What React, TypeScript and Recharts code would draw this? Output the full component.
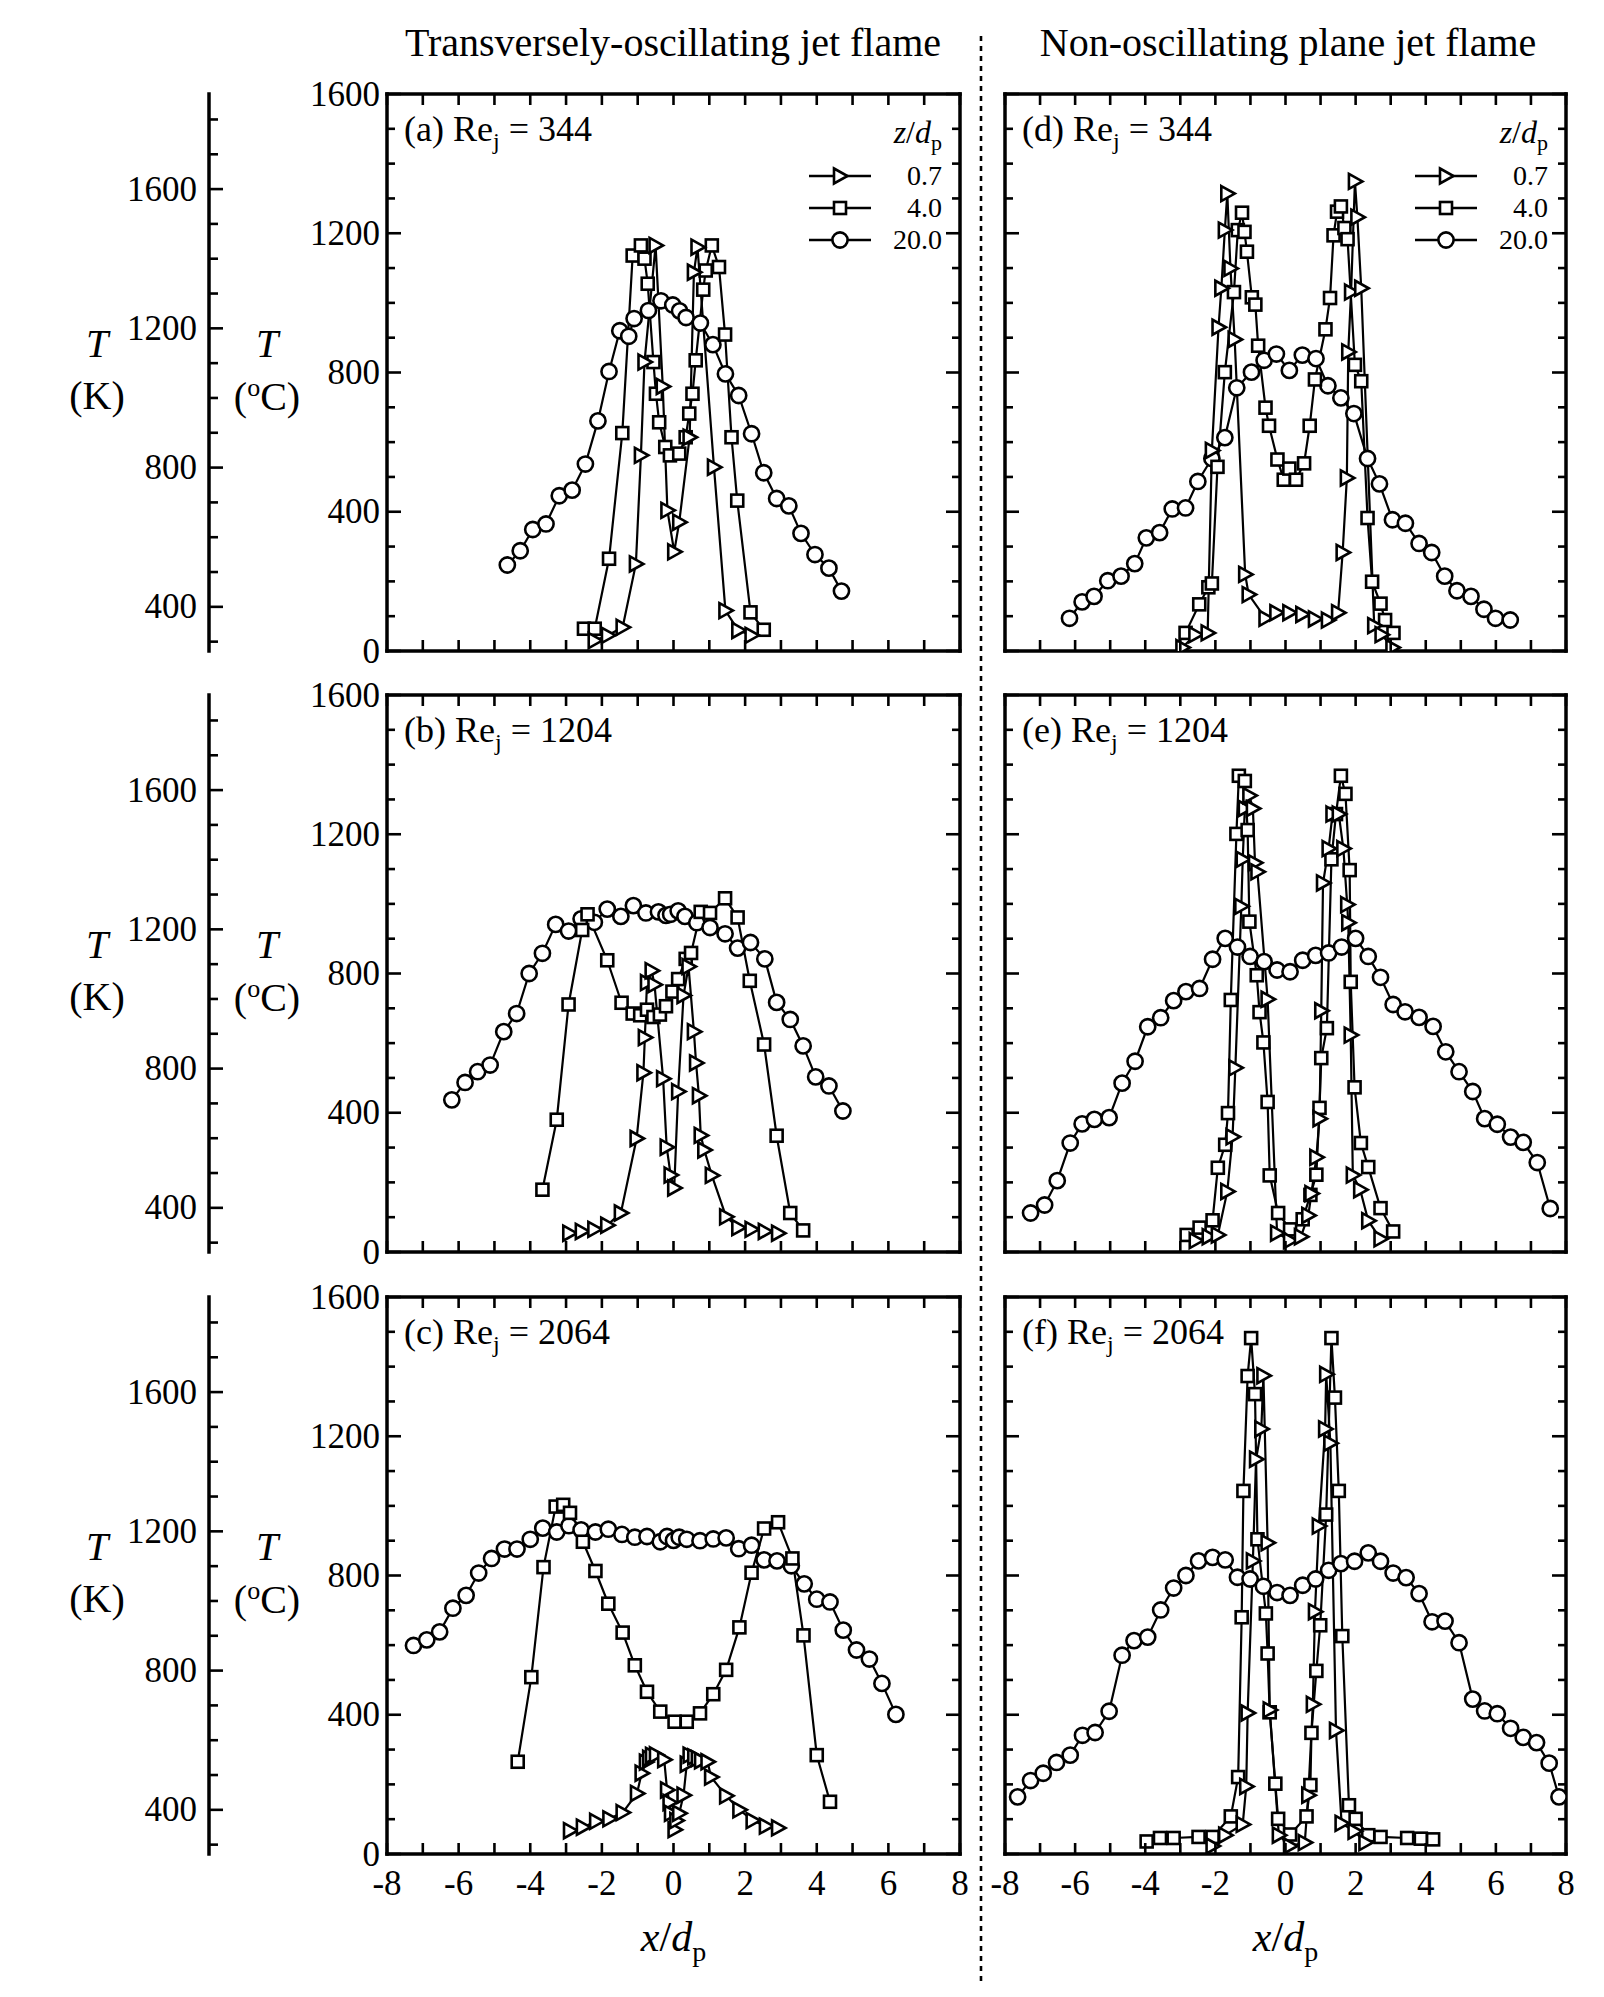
import React from 'react';
import { ComposedChart, Line, XAxis, YAxis } from 'recharts';

type Pt = [number, number];

// axis ticks
const X_TICKS = [-8, -7, -6, -5, -4, -3, -2, -1, 0, 1, 2, 3, 4, 5, 6, 7, 8];
const X_LABELS = [-8, -6, -4, -2, 0, 2, 4, 6, 8];
const C_TICKS = [0, 100, 200, 300, 400, 500, 600, 700, 800, 900, 1000, 1100, 1200, 1300, 1400, 1500, 1600];
const C_LABELS = [0, 400, 800, 1200, 1600];
const K_TICKS = [300, 400, 500, 600, 700, 800, 900, 1000, 1100, 1200, 1300, 1400, 1500, 1600, 1700, 1800];
const K_LABELS = [400, 800, 1200, 1600];
const Z_LEVELS = ['0.7', '4.0', '20.0'];

// (a) Re_j = 344, oscillating
const A_TRI: Pt[] = [[-2.2, 30], [-1.83, 45], [-1.42, 68], [-1.05, 250], [-0.91, 562], [-0.81, 830], [-0.5, 1165], [-0.3, 760], [-0.17, 404], [0.02, 285], [0.16, 370], [0.45, 614], [0.57, 1088], [0.67, 1160], [1.13, 528], [1.45, 116], [1.81, 59], [2.18, 45]];
const A_SQR: Pt[] = [[-2.5, 64], [-2.2, 64], [-1.8, 265], [-1.43, 626], [-1.14, 1136], [-0.91, 1165], [-0.81, 1127], [-0.72, 1055], [-0.56, 830], [-0.49, 739], [-0.4, 657], [-0.23, 586], [-0.1, 562], [0.16, 567], [0.34, 614], [0.44, 682], [0.53, 739], [0.62, 835], [0.83, 1038], [0.9, 1093], [1.07, 1165], [1.27, 1103], [1.44, 909], [1.62, 614], [1.78, 432], [2.15, 111], [2.52, 61]];
const A_CIR: Pt[] = [[-4.64, 247], [-4.28, 288], [-3.93, 349], [-3.56, 365], [-3.19, 446], [-2.83, 462], [-2.46, 537], [-2.11, 661], [-1.8, 803], [-1.5, 920], [-1.25, 904], [-1.1, 955], [-0.7, 978], [-0.35, 1006], [-0.02, 994], [0.17, 977], [0.35, 958], [0.75, 942], [1.1, 880], [1.45, 796], [1.82, 734], [2.18, 624], [2.52, 512], [2.88, 438], [3.22, 417], [3.56, 338], [3.95, 277], [4.34, 238], [4.69, 172]];

// (b) Re_j = 1204, oscillating
const B_TRI: Pt[] = [[-2.91, 54], [-2.56, 59], [-2.21, 65], [-1.85, 77], [-1.47, 112], [-1.03, 326], [-0.84, 515], [-0.8, 616], [-0.74, 774], [-0.61, 808], [-0.53, 768], [-0.29, 498], [-0.19, 301], [-0.08, 221], [0.02, 184], [0.13, 461], [0.28, 737], [0.42, 820], [0.57, 633], [0.63, 543], [0.71, 449], [0.76, 335], [0.86, 293], [1.07, 220], [1.47, 101], [1.81, 70], [2.18, 65], [2.55, 59], [2.92, 54]];
const B_SQR: Pt[] = [[-3.66, 179], [-3.26, 380], [-2.93, 711], [-2.55, 925], [-2.4, 970], [-1.85, 838], [-1.45, 716], [-1.14, 685], [-0.93, 680], [-0.74, 696], [-0.56, 675], [-0.38, 682], [-0.21, 706], [-0.03, 748], [0.13, 784], [0.34, 842], [0.49, 859], [0.76, 977], [1.02, 974], [1.44, 1016], [1.79, 961], [2.13, 779], [2.53, 596], [2.88, 334], [3.26, 112], [3.62, 62]];
const B_CIR: Pt[] = [[-6.19, 437], [-5.82, 487], [-5.47, 518], [-5.12, 537], [-4.74, 633], [-4.38, 685], [-4.03, 800], [-3.66, 858], [-3.29, 941], [-2.93, 922], [-2.58, 957], [-2.21, 947], [-1.85, 985], [-1.47, 964], [-1.12, 995], [-0.77, 974], [-0.42, 977], [-0.21, 967], [-0.08, 970], [0.13, 980], [0.32, 964], [0.65, 946], [1.02, 932], [1.44, 914], [1.79, 873], [2.15, 889], [2.55, 842], [2.88, 717], [3.26, 668], [3.62, 592], [3.97, 503], [4.34, 477], [4.73, 405]];

// (c) Re_j = 2064, oscillating
const C_TRI: Pt[] = [[-2.89, 67], [-2.53, 77], [-2.16, 94], [-1.79, 101], [-1.42, 119], [-1.02, 174], [-0.89, 232], [-0.77, 264], [-0.68, 275], [-0.6, 283], [-0.49, 285], [-0.26, 271], [-0.18, 184], [-0.11, 148], [-0.07, 117], [0.03, 70], [0.08, 96], [0.16, 117], [0.28, 169], [0.37, 258], [0.45, 284], [0.58, 279], [0.68, 274], [0.77, 268], [0.95, 265], [1.05, 221], [1.47, 167], [1.84, 127], [2.21, 96], [2.58, 80], [2.92, 75]];
const C_SQR: Pt[] = [[-4.35, 265], [-3.97, 508], [-3.63, 824], [-3.29, 998], [-3.08, 1003], [-2.89, 980], [-2.53, 897], [-2.18, 813], [-1.82, 719], [-1.42, 636], [-1.08, 542], [-0.74, 466], [-0.37, 409], [0.03, 380], [0.37, 380], [0.74, 404], [1.11, 459], [1.47, 529], [1.84, 651], [2.18, 808], [2.53, 935], [2.92, 953], [3.32, 849], [3.63, 628], [4.0, 284], [4.37, 150]];
const C_CIR: Pt[] = [[-7.26, 599], [-6.89, 615], [-6.53, 638], [-6.16, 706], [-5.79, 743], [-5.44, 807], [-5.08, 849], [-4.72, 876], [-4.37, 876], [-4.0, 904], [-3.65, 936], [-3.26, 925], [-2.92, 943], [-2.58, 931], [-2.18, 925], [-1.82, 933], [-1.44, 918], [-1.08, 910], [-0.74, 912], [-0.37, 897], [-0.18, 912], [0.0, 901], [0.16, 910], [0.37, 904], [0.74, 900], [1.11, 905], [1.47, 908], [1.82, 877], [2.18, 887], [2.53, 845], [2.89, 842], [3.29, 828], [3.65, 776], [4.0, 732], [4.37, 724], [4.74, 643], [5.11, 586], [5.47, 560], [5.82, 490], [6.21, 401]];

// (d) Re_j = 344, non-oscillating
const D_TRI: Pt[] = [[-2.94, 10], [-2.57, 47], [-2.22, 52], [-2.1, 576], [-1.91, 930], [-1.83, 1042], [-1.73, 1209], [-1.66, 1314], [-1.57, 1099], [-1.45, 895], [-1.15, 220], [-1.05, 162], [-0.57, 94], [-0.26, 110], [0.11, 110], [0.48, 105], [0.84, 92], [1.21, 89], [1.5, 110], [1.63, 283], [1.75, 497], [1.79, 859], [1.87, 1031], [1.98, 1349], [2.05, 1246], [2.16, 1042], [2.53, 73], [2.74, 47], [3.05, 10]];
const D_SQR: Pt[] = [[-2.85, 52], [-2.46, 134], [-2.2, 183], [-2.1, 194], [-1.94, 529], [-1.73, 801], [-1.47, 1031], [-1.36, 1209], [-1.24, 1259], [-1.17, 1204], [-1.1, 1147], [-0.96, 1016], [-0.86, 995], [-0.78, 877], [-0.57, 699], [-0.47, 647], [-0.23, 550], [-0.05, 492], [0.11, 524], [0.3, 492], [0.53, 539], [0.69, 647], [0.84, 780], [1.14, 924], [1.27, 1014], [1.37, 1194], [1.47, 1262], [1.58, 1277], [1.68, 1215], [1.77, 1183], [1.98, 822], [2.16, 775], [2.34, 382], [2.47, 199], [2.71, 136], [2.84, 89], [3.08, 52]];
const D_CIR: Pt[] = [[-6.16, 94], [-5.8, 141], [-5.46, 157], [-5.07, 202], [-4.69, 215], [-4.3, 251], [-3.97, 325], [-3.59, 340], [-3.23, 408], [-2.85, 411], [-2.5, 487], [-2.1, 553], [-1.73, 613], [-1.39, 756], [-0.97, 801], [-0.61, 835], [-0.26, 853], [0.11, 806], [0.48, 850], [0.87, 840], [1.21, 762], [1.58, 727], [1.95, 682], [2.34, 553], [2.68, 480], [3.05, 377], [3.42, 367], [3.81, 309], [4.17, 283], [4.54, 215], [4.89, 173], [5.29, 157], [5.66, 120], [5.99, 94], [6.41, 89]];

// (e) Re_j = 1204, non-oscillating
const E_TRI: Pt[] = [[-2.56, 33], [-2.19, 44], [-1.93, 49], [-1.66, 174], [-1.51, 331], [-1.43, 529], [-1.26, 993], [-1.22, 1128], [-1.16, 1274], [-1.03, 1311], [-0.93, 1274], [-0.87, 1118], [-0.8, 1092], [-0.51, 726], [-0.24, 54], [0.13, 33], [0.44, 44], [0.65, 105], [0.74, 168], [0.88, 272], [0.97, 383], [1.02, 693], [1.07, 1060], [1.23, 1159], [1.34, 1258], [1.52, 1258], [1.65, 1159], [1.76, 998], [1.79, 946], [1.86, 623], [1.92, 221], [2.13, 179], [2.36, 90], [2.71, 38]];
const E_SQR: Pt[] = [[-2.82, 49], [-2.45, 70], [-2.08, 91], [-1.93, 242], [-1.72, 308], [-1.64, 399], [-1.56, 724], [-1.4, 1201], [-1.33, 1368], [-1.16, 1353], [-1.08, 1212], [-1.03, 949], [-0.82, 795], [-0.74, 689], [-0.63, 602], [-0.51, 431], [-0.45, 220], [-0.21, 112], [0.13, 65], [0.49, 94], [0.71, 164], [0.88, 222], [0.97, 414], [1.02, 557], [1.18, 643], [1.31, 1128], [1.44, 1258], [1.58, 1368], [1.71, 1316], [1.83, 1097], [1.86, 776], [1.97, 473], [2.15, 313], [2.36, 244], [2.71, 126], [3.07, 59]];
const E_CIR: Pt[] = [[-7.27, 112], [-6.87, 135], [-6.51, 205], [-6.14, 313], [-5.8, 368], [-5.45, 381], [-5.03, 386], [-4.66, 485], [-4.29, 548], [-3.93, 647], [-3.56, 673], [-3.19, 722], [-2.84, 748], [-2.45, 757], [-2.08, 841], [-1.72, 901], [-1.37, 876], [-1.01, 849], [-0.61, 834], [-0.24, 810], [0.13, 805], [0.49, 838], [0.86, 852], [1.23, 859], [1.6, 876], [2.0, 901], [2.36, 849], [2.71, 789], [3.07, 711], [3.41, 690], [3.81, 674], [4.21, 648], [4.57, 575], [4.95, 518], [5.34, 461], [5.68, 383], [6.04, 367], [6.42, 330], [6.78, 315], [7.18, 257], [7.55, 125]];

// (f) Re_j = 2064, non-oscillating
const F_TRI: Pt[] = [[-2.08, 23], [-1.72, 54], [-1.22, 85], [-1.12, 194], [-1.08, 405], [-0.93, 842], [-0.84, 1134], [-0.69, 1221], [-0.63, 1374], [-0.51, 894], [-0.45, 414], [-0.19, 54], [0.13, 23], [0.55, 33], [0.65, 169], [0.78, 430], [0.84, 696], [0.95, 942], [1.13, 1221], [1.16, 1378], [1.28, 1180], [1.44, 355], [1.6, 88], [1.97, 65], [2.28, 33]];
const F_SQR: Pt[] = [[-3.96, 36], [-3.58, 46], [-3.19, 46], [-2.48, 49], [-2.08, 49], [-1.56, 108], [-1.35, 221], [-1.25, 680], [-1.2, 1043], [-1.08, 1373], [-0.98, 1482], [-0.87, 1321], [-0.8, 904], [-0.56, 691], [-0.51, 576], [-0.45, 407], [-0.29, 202], [-0.21, 101], [0.13, 56], [0.6, 108], [0.71, 198], [0.74, 348], [0.88, 526], [0.99, 657], [1.16, 975], [1.31, 1482], [1.41, 1311], [1.52, 1043], [1.62, 626], [1.81, 140], [2.0, 101], [2.36, 54], [2.71, 49], [3.47, 46], [3.86, 44], [4.21, 42]];
const F_CIR: Pt[] = [[-7.64, 164], [-7.27, 211], [-6.91, 232], [-6.53, 263], [-6.14, 284], [-5.79, 341], [-5.43, 349], [-5.03, 410], [-4.66, 571], [-4.32, 613], [-3.93, 623], [-3.56, 701], [-3.19, 764], [-2.84, 800], [-2.48, 842], [-2.08, 852], [-1.72, 845], [-1.37, 795], [-1.01, 790], [-0.63, 769], [-0.24, 751], [0.13, 743], [0.49, 772], [0.86, 790], [1.23, 815], [1.58, 834], [1.97, 841], [2.36, 865], [2.71, 841], [3.07, 807], [3.44, 794], [3.81, 748], [4.18, 667], [4.55, 669], [4.95, 607], [5.34, 445], [5.68, 411], [6.04, 403], [6.42, 361], [6.78, 335], [7.16, 320], [7.52, 261], [7.8, 164]];

const FONT = '"Liberation Serif", "Times New Roman", serif';
const PLOT_H = 557;
const ROW_TOP = [93.5, 695, 1296.5];
const COL_LEFT = [387, 1005];
const COL_W = [573, 561];

const PANELS = [
  { tag: 'a', re: '344', col: 0, row: 0, tri: A_TRI, sqr: A_SQR, cir: A_CIR },
  { tag: 'b', re: '1204', col: 0, row: 1, tri: B_TRI, sqr: B_SQR, cir: B_CIR },
  { tag: 'c', re: '2064', col: 0, row: 2, tri: C_TRI, sqr: C_SQR, cir: C_CIR },
  { tag: 'd', re: '344', col: 1, row: 0, tri: D_TRI, sqr: D_SQR, cir: D_CIR },
  { tag: 'e', re: '1204', col: 1, row: 1, tri: E_TRI, sqr: E_SQR, cir: E_CIR },
  { tag: 'f', re: '2064', col: 1, row: 2, tri: F_TRI, sqr: F_SQR, cir: F_CIR },
];

const rows = (pts: Pt[]) => pts.map(([x, t]) => ({ x, t }));

function Marker({ cx, cy, kind }: { cx?: number; cy?: number; kind: string }) {
  if (cx == null || cy == null) return null;
  const common = { fill: '#fff', stroke: '#000', strokeWidth: 2.6 };
  if (kind === 'tri') {
    return <path d={`M${cx - 6},${cy - 7.5}L${cx + 7.5},${cy}L${cx - 6},${cy + 7.5}Z`} {...common} strokeLinejoin="miter" />;
  }
  if (kind === 'sqr') return <rect x={cx - 6} y={cy - 6} width={12} height={12} {...common} />;
  return <circle cx={cx} cy={cy} r={7.6} {...common} />;
}

function makeTick(side: string, majors: number[], labels: number[] | null, majorLen: number, minorLen: number, gap = 7) {
  return (props: any) => {
    const { x, y, payload, index } = props;
    const v = payload.value;
    const len = majors.includes(v) ? majorLen : minorLen;
    const dx = side === 'left' ? len : side === 'right' ? -len : 0;
    const dy = side === 'top' ? len : side === 'bottom' ? -len : 0;
    const show = labels != null && labels.includes(v);
    return (
      <g key={`${side}-${index}`}>
        <line x1={x} y1={y} x2={x + dx} y2={y + dy} stroke="#000" strokeWidth={2.6} />
        {show && side === 'left' && (
          <text x={x - gap} y={y} textAnchor="end" dominantBaseline="central" fontSize={35} fontFamily={FONT} fill="#000">{v}</text>
        )}
        {show && side === 'bottom' && (
          <text x={x} y={y + 29} textAnchor="middle" dominantBaseline="central" fontSize={35} fontFamily={FONT} fill="#000">{v}</text>
        )}
      </g>
    );
  };
}

const frame = { stroke: '#000', strokeWidth: 3.5, strokeLinecap: 'square' as const };

function Panel({ p }: { p: (typeof PANELS)[number] }) {
  const yw = p.col === 0 ? 100 : 20;
  const mb = p.row === 2 ? 60 : 25;
  const left = COL_LEFT[p.col];
  const top = ROW_TOP[p.row];
  const w = COL_W[p.col];
  const series = [
    { key: 'cir', pts: p.cir },
    { key: 'sqr', pts: p.sqr },
    { key: 'tri', pts: p.tri },
  ];
  // axes of 1px thickness; the plot box is shifted to compensate
  return (
    <div style={{ position: 'absolute', left: left - yw, top: top - 25 }}>
      <ComposedChart width={yw + w + 25} height={25 + PLOT_H + mb} margin={{ top: 24, right: 24, bottom: mb - 1, left: 0 }}>
        <XAxis xAxisId="b" orientation="bottom" type="number" dataKey="x" domain={[-8, 8]} ticks={X_TICKS} interval={0} height={1}
          tickSize={0} tickMargin={0} tickLine={false} axisLine={frame} allowDataOverflow
          tick={makeTick('bottom', X_TICKS, p.row === 2 ? X_LABELS : null, 11, 11)} />
        <XAxis xAxisId="t" orientation="top" type="number" dataKey="x" domain={[-8, 8]} ticks={X_TICKS} interval={0} height={1}
          tickSize={0} tickMargin={0} tickLine={false} axisLine={frame} allowDataOverflow
          tick={makeTick('top', X_TICKS, null, 11, 11)} />
        <YAxis yAxisId="l" orientation="left" type="number" domain={[0, 1600]} ticks={C_TICKS} interval={0} width={yw}
          tickSize={0} tickMargin={0} tickLine={false} axisLine={frame} allowDataOverflow
          tick={makeTick('left', C_LABELS, p.col === 0 ? C_LABELS : null, 14, 8)} />
        <YAxis yAxisId="r" orientation="right" type="number" domain={[0, 1600]} ticks={C_TICKS} interval={0} width={1}
          tickSize={0} tickMargin={0} tickLine={false} axisLine={frame} allowDataOverflow
          tick={makeTick('right', C_LABELS, null, 14, 8)} />
        {series.map((s) => (
          <Line key={s.key} xAxisId="b" yAxisId="l" data={rows(s.pts)} dataKey="t" type="linear" stroke="#000" strokeWidth={2.2}
            isAnimationActive={false} legendType="none"
            dot={(d: any) => <Marker key={`${s.key}-${d.index}`} cx={d.cx} cy={d.cy} kind={s.key} />} />
        ))}
      </ComposedChart>
    </div>
  );
}

function KelvinAxis({ row }: { row: number }) {
  const top = ROW_TOP[row];
  return (
    <div style={{ position: 'absolute', left: 0, top: top - 25 }}>
      <ComposedChart width={230} height={25 + PLOT_H + 25} margin={{ top: 25, right: 21, bottom: 25, left: 0 }}>
        <XAxis xAxisId="k" type="number" domain={[0, 1]} hide />
        <YAxis yAxisId="k" orientation="left" type="number" domain={[273.15, 1873.15]} ticks={K_TICKS} interval={0} width={209}
          tickSize={0} tickMargin={0} tickLine={false} axisLine={frame} allowDataOverflow
          tick={makeTick('left', K_LABELS, K_LABELS, 14, 9, 12)} />
      </ComposedChart>
    </div>
  );
}

function Legend({ col }: { col: number }) {
  const right = COL_LEFT[col] + COL_W[col];
  const top = ROW_TOP[0];
  const kinds = ['tri', 'sqr', 'cir'];
  const ys = [82, 114, 146];
  return (
    <>
      <div style={{ position: 'absolute', left: right - 220, width: 202, top: top + 38, transform: 'translateY(-50%)', textAlign: 'right', fontSize: 32, lineHeight: '28px' }}>
        <i>z</i>/<i>d</i><sub style={{ fontSize: 22, lineHeight: 0 }}>p</sub>
      </div>
      {kinds.map((k, i) => (
        <React.Fragment key={k}>
          <svg style={{ position: 'absolute', left: right - 152, top: top + ys[i] - 12 }} width={64} height={24}>
            <line x1={1} y1={12} x2={63} y2={12} stroke="#000" strokeWidth={2.6} />
            <Marker cx={32} cy={12} kind={k} />
          </svg>
          <div style={{ position: 'absolute', left: right - 120, width: 102, top: top + ys[i], transform: 'translateY(-50%)', textAlign: 'right', fontSize: 28, lineHeight: '24px' }}>
            {Z_LEVELS[i]}
          </div>
        </React.Fragment>
      ))}
    </>
  );
}

export default function App() {
  return (
    <div style={{ position: 'absolute', left: 0, top: 0, width: 1604, height: 1997, background: '#fff', fontFamily: FONT, color: '#000' }}>
      <div style={{ position: 'absolute', left: 673, top: 42, transform: 'translate(-50%, -50%)', whiteSpace: 'nowrap', fontSize: 40 }}>
        Transversely-oscillating jet flame
      </div>
      <div style={{ position: 'absolute', left: 1288, top: 42, transform: 'translate(-50%, -50%)', whiteSpace: 'nowrap', fontSize: 40 }}>
        Non-oscillating plane jet flame
      </div>
      <svg style={{ position: 'absolute', left: 975, top: 36 }} width={12} height={1945}>
        <line x1={6} y1={0} x2={6} y2={1945} stroke="#000" strokeWidth={2.6} strokeDasharray="5 5" />
      </svg>
      {[0, 1, 2].map((r) => (
        <React.Fragment key={r}>
          <KelvinAxis row={r} />
          <div style={{ position: 'absolute', left: 97, top: ROW_TOP[r] + 250, transform: 'translate(-50%, -50%)', fontSize: 40, lineHeight: 1, textAlign: 'center' }}>
            <i>T</i>
          </div>
          <div style={{ position: 'absolute', left: 97, top: ROW_TOP[r] + 302, transform: 'translate(-50%, -50%)', fontSize: 40, lineHeight: 1, whiteSpace: 'nowrap' }}>
            (K)
          </div>
          <div style={{ position: 'absolute', left: 267, top: ROW_TOP[r] + 250, transform: 'translate(-50%, -50%)', fontSize: 40, lineHeight: 1 }}>
            <i>T</i>
          </div>
          <div style={{ position: 'absolute', left: 267, top: ROW_TOP[r] + 302, transform: 'translate(-50%, -50%)', fontSize: 40, lineHeight: 1, whiteSpace: 'nowrap' }}>
            (<sup style={{ fontSize: 26 }}>o</sup>C)
          </div>
        </React.Fragment>
      ))}
      {PANELS.map((p) => (
        <Panel key={p.tag} p={p} />
      ))}
      {PANELS.map((p) => (
        <div key={`tag-${p.tag}`} style={{ position: 'absolute', left: COL_LEFT[p.col] + 17, top: ROW_TOP[p.row] + 38, transform: 'translateY(-50%)', fontSize: 36, lineHeight: 1, whiteSpace: 'nowrap' }}>
          ({p.tag}) Re<sub style={{ fontSize: 24 }}>j</sub> = {p.re}
        </div>
      ))}
      <Legend col={0} />
      <Legend col={1} />
      {[0, 1].map((c) => (
        <div key={`xl-${c}`} style={{ position: 'absolute', left: COL_LEFT[c] + COL_W[c] / 2, top: 1941, transform: 'translate(-50%, -50%)', fontSize: 42, lineHeight: 1, whiteSpace: 'nowrap' }}>
          <i>x</i>/<i>d</i><sub style={{ fontSize: 28 }}>p</sub>
        </div>
      ))}
    </div>
  );
}
